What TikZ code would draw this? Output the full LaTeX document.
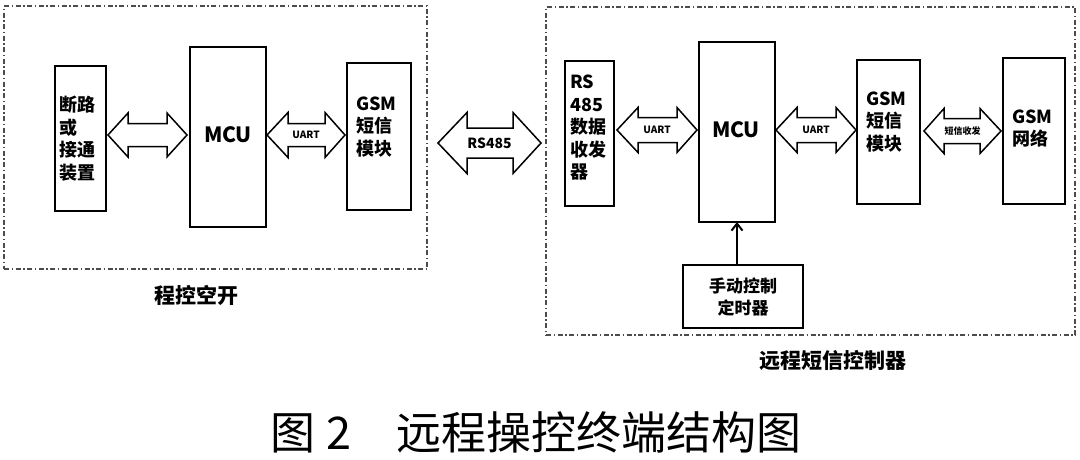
\documentclass[tikz,border=0pt]{standalone}
\usepackage{fontspec}
\setmainfont{Noto Sans CJK SC}
\usetikzlibrary{calc,arrows.meta}
\tikzset{
  blk/.style={draw, line width=2.3pt, inner sep=0pt, outer sep=0pt, anchor=north west},
  frm/.style={draw=black!70, line width=1.2pt, dash pattern=on 5pt off 2.5pt on 1.5pt off 2.5pt,
              inner sep=0pt, outer sep=0pt, anchor=north west},
  btxt/.style={font=\bfseries\fontsize{18}{22.5}\selectfont, align=left, inner sep=0pt, anchor=west},
  mcutxt/.style={font=\bfseries\fontsize{21}{24}\selectfont, inner sep=0pt},
  harr/.style={draw, line width=1.5pt, fill=white, line join=miter},
  alab/.style={font=\bfseries\fontsize{10}{12}\selectfont, inner sep=0pt},
  grp/.style={font=\bfseries\fontsize{21}{24}\selectfont, inner sep=0pt},
}
\newcommand\hollow[8]{%
  \draw[harr] (#1) -- ($(#1)+(#5,-#3)$) -- ($(#1)+(#5,-#4)$) -- ($(#2)+(-#6,-#4)$)
    -- ($(#2)+(-#6,-#3)$) -- (#2) -- ($(#2)+(-#6,#3)$) -- ($(#2)+(-#6,#4)$)
    -- ($(#1)+(#5,#4)$) -- ($(#1)+(#5,#3)$) -- cycle;
  \node[alab,#7] at ($(#1)!0.5!(#2)$) {#8};
}
\begin{document}
\begin{tikzpicture}[x=1pt,y=-1pt]
\useasboundingbox (0,0) rectangle (1080,459);
\fill[white] (0,0) rectangle (1080,459);

% frames
\node[frm, minimum width=423pt, minimum height=263pt] (lf) at (4,6) {};
\node[frm, minimum width=529pt, minimum height=328pt] (rf) at (546,7) {};

% blocks
\node[blk, minimum width=51pt, minimum height=145pt] (brk) at (55,66) {};
\node[blk, minimum width=76pt, minimum height=180pt] (mcuL) at (190,47) {};
\node[blk, minimum width=64pt, minimum height=147pt] (gsmL) at (347,63) {};
\node[blk, minimum width=49pt, minimum height=145pt] (rs) at (565,61) {};
\node[blk, minimum width=76pt, minimum height=180pt] (mcuR) at (699,42) {};
\node[blk, minimum width=120pt, minimum height=63pt] (timer) at (683,265) {};
\node[blk, minimum width=63pt, minimum height=144pt] (gsmR) at (857,60) {};
\node[blk, minimum width=62pt, minimum height=146pt] (net) at (1003,58) {};

% block texts
\node[btxt] (tbrk) at (59,138.5) {断路\\或\\接通\\装置};
\node[mcutxt] (tmcuL) at (228,135) {MCU};
\node[btxt] (tgsmL) at (356,127) {GSM\\短信\\模块};
\node[btxt] (trs) at (570,128) {RS\\485\\数据\\收发\\器};
\node[mcutxt] (tmcuR) at (736,130) {MCU};
\node[btxt, anchor=center, align=center, font=\bfseries\fontsize{17}{22}\selectfont] (ttimer) at (743,297) {手动控制\\定时器};
\node[btxt] (tgsmR) at (866,122) {GSM\\短信\\模块};
\node[btxt] (tnet) at (1012,128.5) {GSM\\网络};

% hollow double arrows
\coordinate (a1L) at ($(brk.east |- 0,135)+(2,0)$);
\coordinate (a1R) at ($(mcuL.west |- 0,135)+(-3,0)$);
\hollow{a1L}{a1R}{22}{11.5}{20}{20}{}{}

\coordinate (a2L) at ($(mcuL.east |- 0,135)+(1,0)$);
\coordinate (a2R) at ($(gsmL.west |- 0,135)+(-2,0)$);
\hollow{a2L}{a2R}{22.5}{11.5}{21}{20}{}{UART}

\coordinate (a3L) at ($(lf.east |- 0,143)+(11,0)$);
\coordinate (a3R) at ($(rf.west |- 0,143)+(-5,0)$);
\hollow{a3L}{a3R}{30.5}{15}{29}{28}{font=\bfseries\fontsize{14}{16}\selectfont}{RS485}

\coordinate (a4L) at ($(rs.east |- 0,130)+(3,0)$);
\coordinate (a4R) at ($(mcuR.west |- 0,130)+(-2,0)$);
\hollow{a4L}{a4R}{22.5}{12.5}{21}{20}{}{UART}

\coordinate (a5L) at ($(mcuR.east |- 0,130)+(1,0)$);
\coordinate (a5R) at ($(gsmR.west |- 0,130)+(-1,0)$);
\hollow{a5L}{a5R}{22.5}{12.5}{21}{20}{}{UART}

\coordinate (a6L) at ($(gsmR.east |- 0,131)+(4,0)$);
\coordinate (a6R) at ($(net.west |- 0,131)+(-2,0)$);
\hollow{a6L}{a6R}{22.5}{12.5}{20}{21}{font=\bfseries\fontsize{9}{10}\selectfont}{短信收发}

% timer -> MCU
\draw[line width=2pt, -{Straight Barb[length=7pt,width=11pt,line width=2pt]}]
  (mcuR.south |- timer.north) -- (mcuR.south);

% group labels
\node[grp] (g1) at (196,295) {程控空开};
\node[grp] (g2) at (833,360) {远程短信控制器};

% caption
\node[inner sep=0pt, font=\fontsize{45}{50}\selectfont] (cap) at (536,432) {图 2　远程操控终端结构图};
\end{tikzpicture}
\end{document}
